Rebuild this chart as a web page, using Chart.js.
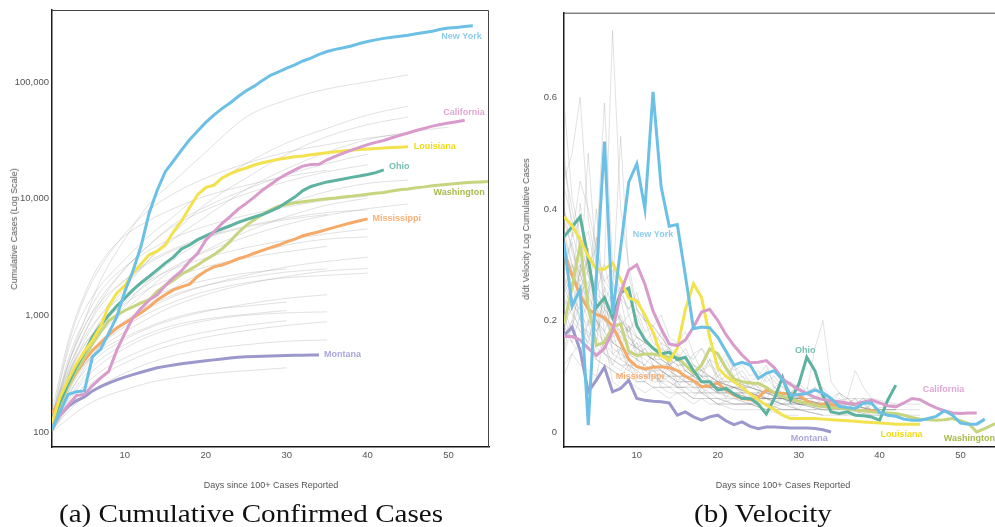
<!DOCTYPE html>
<html>
<head>
<meta charset="utf-8">
<script src="https://cdn.jsdelivr.net/npm/chart.js@4.4.1/dist/chart.umd.min.js"></script>
<style>
  html, body { margin: 0; padding: 0; background: #fff; overflow: hidden; width: 995px; height: 527px; }
  canvas { position: absolute; top: 0; }
  #cum { left: 0; }
  #vel { left: 500px; }
  .t { position: absolute; font-family: "Liberation Sans", Arial, sans-serif; font-size: 9px; color: #555; white-space: nowrap; transform: translate(-50%, -50%); }
  .rot { transform: translate(-50%, -50%) rotate(-90deg); }
  .cap { position: absolute; font-family: "Liberation Serif", "DejaVu Serif", serif; font-size: 26px; color: #111; white-space: nowrap; transform: translate(-50%, -50%) scaleX(1.12); }
</style>
</head>
<body>
<canvas id="cum" width="500" height="500"></canvas>
<canvas id="vel" width="510" height="500"></canvas>
<div class="t rot" style="left:14px;top:229px">Cumulative Cases (Log Scale)</div>
<div class="t" style="left:271px;top:485px">Days since 100+ Cases Reported</div>
<div class="t rot" style="left:526px;top:229px">d/dt Velocity Log Cumulative Cases</div>
<div class="t" style="left:783px;top:485px">Days since 100+ Cases Reported</div>
<div class="cap" style="left:251px;top:514px">(a) Cumulative Confirmed Cases</div>
<div class="cap" style="left:763px;top:514px">(b) Velocity</div>
<script>
// highlighted states
const STATES = ['New York', 'California', 'Louisiana', 'Ohio', 'Washington', 'Mississippi', 'Montana'];

// cumulative cases, one value per day starting at day 1
const CUM_NY = [105,150,210,221,225,440,510,700,970,1600,2400,3900,7500,11800,17000,21000,26000,32000,38000,45000,52000,59000,66000,75000,84000,92000,103000,114000,122000,131000,140000,151000,160000,172000,182000,190000,196000,203000,213000,222000,229000,236000,241000,246000,251000,258000,265000,272000,282000,289000,293000,298000,302000];
const CUM_CA = [110,140,170,205,210,250,290,330,500,700,950,1150,1350,1500,1800,2100,2400,2900,3400,4400,5200,6100,7000,8100,9100,10300,11800,13200,14800,16200,17600,19000,19600,19700,21500,23000,24500,26000,27500,29000,30300,31500,33200,34800,36500,38300,40000,41800,43200,44400,45600,47000];
const CUM_LA = [120,200,280,380,490,610,800,1200,1550,1800,2300,2750,3300,3550,4000,5200,6400,8400,10800,12500,13000,15000,16300,17400,18300,19400,20300,21000,21700,22300,22800,23200,23700,24200,24700,25200,25600,26000,26300,26600,26900,27100,27400,27600,27800];
const CUM_OH = [120,180,260,360,480,650,820,1000,1200,1400,1650,1900,2150,2450,2800,3150,3700,4000,4450,4800,5150,5500,5850,6250,6600,6950,7300,7800,8400,9300,10300,11700,12700,13300,13900,14300,14700,15200,15600,16100,16700,17600];
const CUM_WA = [115,170,250,330,440,570,720,900,1000,1100,1180,1280,1350,1600,1800,2000,2250,2450,2700,3000,3300,3700,4300,5100,5900,6600,7300,8000,8600,8900,9200,9400,9600,9800,9950,10100,10300,10500,10700,10900,11100,11300,11600,11900,12100,12400,12600,12900,13100,13300,13500,13650,13800,13900,14000];
const CUM_MS = [145,190,250,320,410,500,580,680,780,860,950,1050,1180,1350,1500,1650,1750,1850,2150,2400,2600,2700,2850,3050,3200,3400,3600,3800,4000,4250,4500,4800,5000,5200,5450,5700,5950,6200,6450,6700];
const CUM_MT = [112,140,165,185,200,225,245,262,280,295,310,325,340,355,365,375,385,393,400,408,415,422,430,438,442,444,446,448,450,452,454,455,456,457];

// other states, cumulative, read at these days only
const CUM_GRAY_DAYS = [1,3,5,7,10,13,16,20,25,30,35,40,45,50];
const CUM_GRAY = [
  [110,380,900,2000,4500,9000,14000,25000,50000,70000,87000,100000,115000],
  [130,500,1100,1800,3000,4800,7000,12000,20000,30000,40000,52000,62000],
  [110,250,500,900,1700,3000,5000,9000,15000,24000,34000,43000,50000],
  [120,300,600,1000,1800,3000,4500,7000,12000,18000,25000,32000,37000,41000],
  [140,380,800,1400,2500,4000,6000,8500,12000,16000,20000,24000],
  [100,220,420,700,1200,2000,3000,4500,6500,9000,11500,13500,14400],
  [115,260,450,700,1100,1700,2500,3600,5200,7000,8800,10100],
  [105,200,350,550,850,1250,1700,2400,3200,4000,4500,4700],
  [125,280,430,600,850,1150,1450,1800,2200,2600,2900,3150],
  [110,240,380,520,720,950,1200,1500,1850,2150,2400,2520],
  [100,180,280,380,520,660,780,900,1000,1050,1070],
  [105,190,300,420,560,700,820,930,1020,1100],
  [100,160,230,300,390,480,560,650,740,820,880],
  [105,150,200,250,320,390,450,510,560,600,615],
  [100,130,165,195,230,265,290,315,335,355],
  [150,600,1500,2800,4800,6500,8200,10500,13000,15500,17500],
  [120,420,900,1600,2600,3600,4600,5800,7200,8500,9700,10500],
  [110,330,700,1200,2000,2900,3700,4700,5800,6800,7600,8000],
  [130,350,650,1000,1500,2000,2500,3100,3800,4400,5000,5500],
  [115,300,550,850,1250,1700,2100,2600,3100,3500,3900],
  [140,320,560,800,1100,1400,1700,2000,2300,2500],
  [100,230,400,600,900,1200,1500,1800,2100,2350,2500],
  [120,250,380,500,650,800,950,1100,1200,1300],
  [110,210,330,460,620,780,920,1080,1250,1400,1500],
  [100,170,250,330,430,530,620,720,820,900],
  [130,550,1400,2600,5000,8000,11000,15000,20000,25000,29000,33000,36000],
  [100,300,700,1300,2500,4000,5800,8000,11000,14000,17000,19500],
  [110,260,500,800,1300,1900,2600,3500,4700,6000,7200,8200,9000],
  [125,380,800,1300,2000,2800,3600,4600,5700,6600,7300],
  [105,220,370,550,800,1050,1300,1600,1900,2100,2200,2300]
];

// velocity, one value per day starting at day 1
const VEL_NY = [0.34,0.226,0.256,0.012,0.28,0.521,0.211,0.33,0.448,0.481,0.40,0.61,0.44,0.369,0.372,0.28,0.185,0.188,0.187,0.17,0.145,0.12,0.125,0.12,0.096,0.105,0.11,0.094,0.066,0.067,0.069,0.075,0.07,0.06,0.046,0.044,0.042,0.052,0.052,0.035,0.03,0.028,0.023,0.021,0.021,0.024,0.028,0.038,0.03,0.016,0.014,0.014,0.023];
const VEL_CA = [0.171,0.171,0.165,0.15,0.137,0.15,0.18,0.25,0.29,0.30,0.265,0.217,0.185,0.158,0.155,0.165,0.188,0.215,0.22,0.2,0.175,0.155,0.138,0.124,0.125,0.128,0.115,0.095,0.085,0.076,0.069,0.062,0.058,0.056,0.054,0.052,0.05,0.054,0.057,0.052,0.047,0.045,0.052,0.06,0.058,0.05,0.043,0.038,0.034,0.033,0.034,0.034];
const VEL_LA = [0.386,0.37,0.345,0.315,0.292,0.292,0.303,0.273,0.24,0.235,0.21,0.179,0.137,0.128,0.15,0.22,0.266,0.241,0.17,0.115,0.1,0.09,0.08,0.068,0.058,0.048,0.04,0.03,0.024,0.024,0.024,0.024,0.023,0.022,0.021,0.02,0.019,0.018,0.017,0.016,0.015,0.014,0.014,0.014,0.014];
const VEL_OH = [0.35,0.368,0.386,0.31,0.223,0.241,0.205,0.25,0.258,0.19,0.165,0.15,0.14,0.143,0.13,0.134,0.11,0.09,0.09,0.075,0.078,0.068,0.06,0.06,0.05,0.032,0.06,0.098,0.057,0.085,0.134,0.11,0.065,0.036,0.033,0.036,0.03,0.029,0.027,0.021,0.057,0.084];
const VEL_WA = [0.194,0.259,0.336,0.225,0.155,0.161,0.188,0.194,0.145,0.137,0.14,0.14,0.137,0.134,0.134,0.12,0.105,0.12,0.149,0.14,0.115,0.095,0.09,0.088,0.087,0.08,0.07,0.064,0.059,0.055,0.051,0.048,0.045,0.044,0.043,0.042,0.04,0.038,0.036,0.035,0.034,0.033,0.03,0.026,0.023,0.022,0.021,0.022,0.024,0.02,0.015,0.0,0.006,0.013,0.018];
const VEL_MS = [0.324,0.28,0.245,0.22,0.211,0.205,0.19,0.16,0.13,0.117,0.113,0.116,0.117,0.115,0.11,0.1,0.092,0.081,0.083,0.088,0.075,0.066,0.06,0.058,0.062,0.075,0.071,0.069,0.069,0.066,0.056,0.048,0.05,0.05,0.044,0.042,0.04,0.038,0.038,0.038];
const VEL_MT = [0.173,0.188,0.146,0.072,0.093,0.116,0.072,0.078,0.093,0.06,0.057,0.055,0.054,0.052,0.03,0.036,0.027,0.021,0.027,0.03,0.02,0.013,0.018,0.01,0.006,0.009,0.009,0.008,0.007,0.007,0.007,0.006,0.004,0.0];

// other states, velocity, read at these days only
const VEL_GRAY_DAYS = [1,2,3,4,5,6,7,8,9,10,11,12,13,14,15,16,17,18,19,20,22,24,26,28,30,33,36,39,42,45];
const VEL_GRAY = [
  [.59,.42,.35,.28,.25,.30,.72,.40,.30,.22,.20,.18,.16,.15,.13,.12,.11,.10,.09,.09,.08,.07,.06,.06,.05,.05,.04,.04],
  [.45,.50,.60,.38,.30,.27,.25,.53,.28,.22,.20,.19,.17,.15,.14,.13,.12,.11,.10,.09,.09,.08,.07,.06,.06,.05,.04],
  [.30,.35,.45,.40,.33,.59,.30,.25,.22,.24,.20,.16,.15,.14,.13,.12,.11,.11,.10,.09,.08,.08,.07,.06,.06,.05],
  [.40,.32,.28,.50,.30,.26,.23,.20,.18,.17,.16,.15,.13,.12,.11,.11,.10,.09,.09,.08,.08,.07,.06,.06,.05,.05,.04,.04,.04],
  [.25,.28,.30,.24,.22,.20,.18,.24,.17,.15,.14,.13,.12,.12,.11,.10,.10,.09,.08,.08,.07,.06,.06,.05,.05,.04,.04,.03],
  [.20,.22,.18,.16,.15,.14,.13,.12,.11,.10,.10,.09,.09,.08,.08,.07,.07,.07,.06,.06,.05,.05,.05,.04,.04,.04],
  [.35,.30,.26,.22,.20,.18,.15,.14,.13,.12,.11,.10,.10,.09,.08,.08,.07,.07,.06,.06,.05,.05,.05,.04,.04],
  [.28,.24,.22,.33,.20,.17,.16,.15,.19,.13,.12,.14,.11,.10,.12,.09,.09,.10,.08,.07,.07,.06,.05,.06,.05,.04,.04,.03,.03,.03],
  [.18,.24,.20,.17,.14,.16,.12,.11,.13,.10,.09,.12,.08,.08,.09,.07,.06,.08,.06,.05,.06,.05,.04,.05,.04,.03,.03,.03],
  [.50,.36,.30,.26,.22,.20,.19,.17,.16,.15,.14,.13,.12,.11,.10,.10,.09,.09,.08,.08,.07,.07,.06,.06,.05,.05,.04],
  [.15,.20,.25,.22,.18,.16,.14,.15,.12,.11,.12,.10,.09,.10,.08,.08,.09,.07,.07,.06,.06,.05,.06,.05,.04,.04,.03],
  [.22,.18,.30,.25,.20,.18,.22,.16,.14,.13,.12,.11,.11,.10,.09,.09,.08,.08,.07,.07,.08,.06,.06,.05,.07,.06,.05,.04],
  [.32,.28,.26,.24,.35,.22,.20,.18,.16,.15,.14,.13,.12,.11,.10,.10,.09,.09,.08,.08,.07,.07,.06,.06,.05,.05,.05,.04,.04],
  [.12,.14,.16,.15,.13,.12,.11,.10,.10,.09,.09,.08,.08,.07,.07,.07,.06,.06,.06,.05,.05,.05,.04,.04,.04,.03],
  [.38,.33,.28,.25,.40,.22,.20,.19,.18,.20,.16,.15,.14,.13,.12,.12,.11,.10,.10,.09,.09,.08,.07,.07,.06,.06,.05,.05],
  [.26,.30,.24,.20,.18,.22,.16,.15,.14,.13,.15,.12,.11,.10,.10,.09,.09,.08,.08,.08,.07,.07,.06,.06,.06,.05,.05,.04,.05,.05],
  [.21,.16,.14,.20,.13,.12,.11,.10,.12,.09,.09,.08,.08,.08,.07,.07,.06,.06,.06,.05,.05,.05,.04,.04,.04,.03],
  [.30,.26,.41,.28,.24,.21,.19,.18,.17,.16,.14,.13,.13,.12,.11,.10,.10,.09,.09,.08,.08,.07,.07,.06,.06,.05,.05,.04,.04],
  [.17,.20,.18,.16,.22,.14,.13,.12,.12,.11,.10,.10,.09,.09,.08,.08,.08,.07,.07,.07,.06,.06,.05,.05,.05,.04,.04],
  [.24,.21,.19,.18,.16,.26,.14,.13,.12,.12,.11,.11,.10,.10,.09,.09,.08,.08,.08,.07,.07,.06,.06,.05,.05,.05,.04,.04,.04],
  [.44,.38,.33,.29,.26,.24,.22,.20,.19,.17,.16,.15,.14,.13,.12,.12,.11,.10,.10,.09,.08,.08,.07,.07,.06,.06,.05],
  [.10,.14,.12,.11,.10,.17,.09,.08,.09,.08,.07,.08,.07,.06,.07,.06,.05,.06,.05,.05,.04,.04,.04,.03,.03],
  [.33,.29,.25,.27,.23,.20,.19,.21,.17,.15,.16,.14,.13,.12,.13,.11,.10,.11,.09,.09,.08,.07,.07,.06,.06,.05,.05,.04,.04,.04],
  [.27,.23,.21,.19,.29,.18,.16,.15,.14,.14,.13,.12,.11,.10,.10,.09,.09,.08,.08,.07,.07,.06,.06,.06,.05,.05,.06,.06,.05]
];

// other states, velocity, one value per day starting at day 1
const VEL_GRAY_DAILY = [
  [.36,.30,.27,.31,.24,.22,.25,.19,.21,.17,.16,.18,.14,.15,.13,.12,.14,.11,.12,.10,.11,.09,.10,.08,.09,.08,.07,.09,.07,.06,.08,.06,.07,.05,.06,.05,.06,.04,.05,.04],
  [.22,.27,.20,.23,.18,.21,.16,.17,.19,.14,.15,.13,.16,.12,.13,.11,.12,.10,.13,.09,.10,.12,.08,.09,.07,.10,.08,.07,.09,.06,.07,.08,.06,.05,.07,.05,.06,.04,.05,.04],
  [.48,.40,.33,.36,.28,.30,.24,.26,.21,.22,.18,.19,.17,.15,.16,.14,.13,.15,.12,.11,.13,.10,.11,.09,.10,.12,.08,.09,.07,.08,.07,.15,.20,.09,.07,.06,.05,.06,.05,.04],
  [.14,.19,.23,.17,.20,.15,.18,.13,.14,.16,.11,.12,.10,.13,.09,.11,.10,.08,.09,.10,.07,.08,.09,.06,.07,.08,.06,.07,.05,.06,.07,.05,.06,.05,.04,.05,.04,.05,.04,.03],
  [.30,.34,.26,.29,.25,.23,.27,.20,.18,.21,.17,.15,.18,.14,.13,.15,.12,.11,.13,.10,.09,.12,.10,.09,.08,.11,.09,.08,.07,.09,.07,.06,.08,.06,.05,.06,.11,.08,.06,.05],
  [.26,.22,.29,.21,.19,.24,.17,.18,.15,.17,.14,.13,.15,.12,.14,.11,.10,.12,.09,.11,.08,.10,.07,.09,.08,.06,.08,.07,.06,.05,.07,.06,.05,.06,.04,.05,.04,.05,.04,.04],
  [.19,.16,.21,.15,.17,.14,.12,.15,.11,.13,.10,.11,.09,.12,.08,.10,.09,.07,.08,.09,.06,.08,.07,.05,.07,.06,.05,.06,.05,.04,.06,.04,.05,.04,.03,.04,.03,.04,.03,.03],
  [.40,.35,.38,.30,.33,.27,.29,.24,.22,.25,.20,.19,.21,.17,.16,.18,.14,.15,.13,.12,.14,.11,.12,.10,.11,.09,.10,.08,.09,.08,.07,.08,.07,.06,.07,.06,.05,.06,.05,.05]
];

// axis ticks
const X_TICKS = [10, 20, 30, 40, 50];
const CUM_TICKS = [100, 1000, 10000, 100000];
const VEL_TICKS = [0, 0.2, 0.4, 0.6];

// where the state names sit, in data units
const CUM_LABEL_DAYS = [51.6, 51.9, 48.3, 43.9, 51.3, 43.6, 36.9];
const CUM_LABEL_VALUES = [244000, 54500, 27900, 18700, 11200, 6780, 457];
const VEL_LABEL_DAYS = [12.0, 47.9, 42.7, 30.8, 51.1, 10.4, 31.3];
const VEL_LABEL_VALUES = [0.355, 0.077, -0.005, 0.146, -0.0125, 0.1, -0.0125];

const LINE_COLORS = ['#6cc0e5', '#d99bcb', '#f2e24e', '#5db3a0', '#c6d57e', '#f5aa68', '#9c98cc'];
const TEXT_COLORS = ['#8dcdeb', '#e1a8d4', '#f0dc10', '#72bfae', '#a9b94c', '#f7b075', '#aaa6d8'];
const FONT = '"Liberation Sans", Arial, sans-serif';

const toPoints = (vals, days) => vals.map((v, i) => ({ x: days ? days[i] : i + 1, y: v }));

const statePlugin = {
  id: 'stateNames',
  afterDatasetsDraw(chart, args, opts) {
    const { ctx, scales: { x, y } } = chart;
    ctx.save();
    ctx.font = 'bold 9px ' + FONT;
    ctx.textAlign = 'center';
    ctx.textBaseline = 'middle';
    STATES.forEach((name, i) => {
      ctx.fillStyle = TEXT_COLORS[i];
      ctx.fillText(name, x.getPixelForValue(opts.days[i]), y.getPixelForValue(opts.values[i]));
    });
    ctx.restore();
  }
};

const framePlugin = {
  id: 'frame',
  afterDraw(chart) {
    const { ctx, chartArea: a } = chart;
    ctx.save();
    ctx.strokeStyle = '#444';
    ctx.lineWidth = 1;
    ctx.beginPath();
    ctx.moveTo(a.left, a.top + 0.5);
    ctx.lineTo(a.right - 0.5, a.top + 0.5);
    ctx.lineTo(a.right - 0.5, a.bottom);
    ctx.stroke();
    ctx.restore();
  }
};

function buildChart(id, cfg) {
  const highlighted = cfg.series.map((vals, i) => ({
    data: toPoints(vals),
    borderColor: LINE_COLORS[i],
    borderWidth: 3,
    pointRadius: 0,
    tension: 0
  }));
  const gray = cfg.gray.map(vals => ({
    data: toPoints(vals, cfg.grayDays),
    borderColor: cfg.grayColor,
    borderWidth: 1,
    pointRadius: 0,
    cubicInterpolationMode: cfg.smoothGray ? 'monotone' : 'default',
    tension: 0
  }));
  const grayDaily = (cfg.grayDaily || []).map(vals => ({
    data: toPoints(vals),
    borderColor: cfg.grayColor,
    borderWidth: 1,
    pointRadius: 0,
    tension: 0
  }));
  return new Chart(document.getElementById(id), {
    type: 'line',
    data: { datasets: highlighted.concat(gray, grayDaily) },
    plugins: [statePlugin, framePlugin],
    options: {
      responsive: false,
      animation: false,
      events: [],
      layout: { padding: { top: 10, right: cfg.padRight, left: 0, bottom: 0 } },
      plugins: {
        legend: { display: false },
        tooltip: { enabled: false },
        stateNames: { days: cfg.labelDays, values: cfg.labelValues }
      },
      scales: {
        x: {
          type: 'linear', min: 1, max: 55,
          afterBuildTicks: s => { s.ticks = X_TICKS.map(v => ({ value: v })); },
          afterFit: s => { s.height = 53; },
          grid: { display: false, drawTicks: false },
          border: { display: true, color: '#1a1a1a', width: 1.5 },
          ticks: { color: '#555', font: { family: FONT, size: 9.5 }, padding: 3, maxRotation: 0 }
        },
        y: {
          type: cfg.yType, min: cfg.yMin, max: cfg.yMax,
          afterBuildTicks: s => { s.ticks = cfg.yTicks.map(v => ({ value: v })); },
          afterFit: s => { s.width = cfg.yWidth; },
          grid: { display: false, drawTicks: false },
          border: { display: true, color: '#1a1a1a', width: 1.5 },
          ticks: { color: '#555', font: { family: FONT, size: 9.5 }, padding: cfg.yPad, callback: cfg.yFormat }
        }
      }
    }
  });
}

buildChart('cum', {
  series: [CUM_NY, CUM_CA, CUM_LA, CUM_OH, CUM_WA, CUM_MS, CUM_MT],
  gray: CUM_GRAY, grayDays: CUM_GRAY_DAYS, grayColor: 'rgba(170,170,170,0.35)', smoothGray: true,
  yType: 'logarithmic', yMin: 74.4, yMax: 413000, yTicks: CUM_TICKS,
  yFormat: v => Number(v).toLocaleString('en-US'),
  yWidth: 52, yPad: 3, padRight: 11,
  labelDays: CUM_LABEL_DAYS, labelValues: CUM_LABEL_VALUES
});

buildChart('vel', {
  series: [VEL_NY, VEL_CA, VEL_LA, VEL_OH, VEL_WA, VEL_MS, VEL_MT],
  gray: VEL_GRAY, grayDays: VEL_GRAY_DAYS, grayDaily: VEL_GRAY_DAILY,
  grayColor: 'rgba(140,140,140,0.25)', smoothGray: false,
  yType: 'linear', yMin: -0.027, yMax: 0.752, yTicks: VEL_TICKS,
  yFormat: v => String(Math.round(v * 10) / 10),
  yWidth: 64, yPad: 7, padRight: 9,
  labelDays: VEL_LABEL_DAYS, labelValues: VEL_LABEL_VALUES
});
</script>
</body>
</html>
